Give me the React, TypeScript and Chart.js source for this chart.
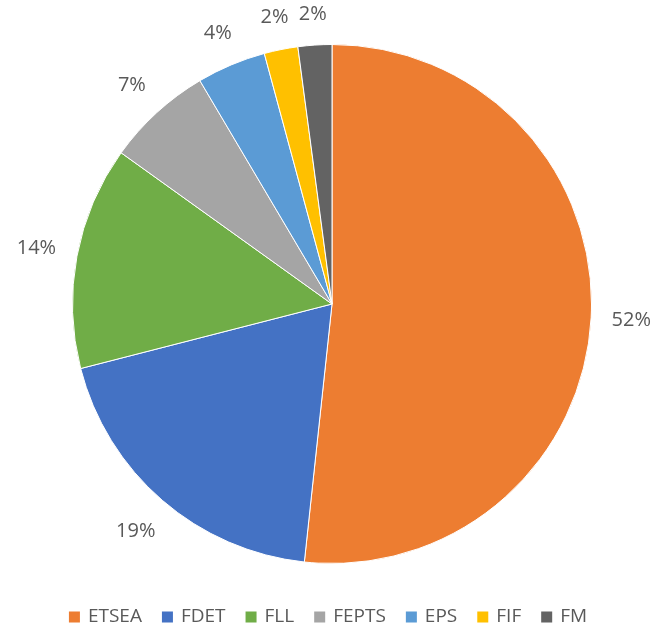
import React, { useEffect, useRef } from "react";
import { Chart, registerables } from "chart.js";

Chart.register(...registerables);

const categories = ["ETSEA", "FDET", "FLL", "FEPTS", "EPS", "FIF", "FM"];
const values = [51.7, 19.3, 13.9, 6.6, 4.3, 2.1, 2.1];
const colors = ["#ED7D31", "#4472C4", "#70AD47", "#A5A5A5", "#5B9BD5", "#FFC000", "#636363"];

const TEXT_COLOR = "#595959";
const FONT = '"Open Sans", "Noto Sans", sans-serif';

const labelPlugin = {
  id: "outsideLabels",
  afterDatasetsDraw(chart: any) {
    const ctx = chart.ctx;
    const meta = chart.getDatasetMeta(0);
    const data = chart.data.datasets[0].data as number[];
    const total = data.reduce((a, b) => a + b, 0);
    ctx.save();
    ctx.font = `20px ${FONT}`;
    ctx.fillStyle = TEXT_COLOR;
    ctx.textAlign = "center";
    ctx.textBaseline = "middle";
    meta.data.forEach((arc: any, i: number) => {
      const { x, y, startAngle, endAngle, outerRadius } = arc.getProps(
        ["x", "y", "startAngle", "endAngle", "outerRadius"],
        true
      );
      const text = Math.round((data[i] / total) * 100) + "%";
      const w = ctx.measureText(text).width;
      const h = 20;
      const mid = (startAngle + endAngle) / 2;
      const c = Math.cos(mid);
      const s = Math.sin(mid);
      const r = outerRadius + 20 + Math.abs(c) * (w / 2) + Math.abs(s) * (h / 2);
      ctx.fillText(text, x + c * r, y + s * r);
    });
    ctx.restore();
  },
};

const legendPlugin = {
  id: "customLegend",
  afterDraw(chart: any) {
    const ctx = chart.ctx;
    const labels = chart.data.labels as string[];
    const cols = chart.data.datasets[0].backgroundColor as string[];
    const box = 11;
    const gap = 8;
    const itemGap = 20;
    ctx.save();
    ctx.font = `19px ${FONT}`;
    const widths = labels.map((l) => ctx.measureText(l).width);
    const total =
      widths.reduce((a, w) => a + box + gap + w, 0) + itemGap * (labels.length - 1);
    let xPos = chart.width / 2 - total / 2;
    const cy = 616.5;
    ctx.textBaseline = "middle";
    ctx.textAlign = "left";
    labels.forEach((l, i) => {
      ctx.fillStyle = cols[i];
      ctx.fillRect(xPos, cy - box / 2 + 0.5, box, box);
      xPos += box + gap;
      ctx.fillStyle = TEXT_COLOR;
      ctx.fillText(l, xPos, cy);
      xPos += widths[i] + itemGap;
    });
    ctx.restore();
  },
};

export default function App() {
  const ref = useRef<HTMLCanvasElement>(null);
  useEffect(() => {
    if (!ref.current) return;
    const chart = new Chart(ref.current, {
      type: "pie",
      data: {
        labels: categories,
        datasets: [
          {
            data: values,
            backgroundColor: colors,
            borderColor: "#ffffff",
            borderWidth: 1,
          },
        ],
      },
      options: {
        responsive: false,
        animation: false,
        layout: { padding: { top: 44, bottom: 63, left: 72, right: 64 } },
        plugins: {
          legend: { display: false },
          tooltip: { enabled: false },
        },
      },
      plugins: [labelPlugin, legendPlugin],
    });
    return () => chart.destroy();
  }, []);
  return (
    <div style={{ position: "fixed", left: 0, top: 0, width: 656, height: 627, background: "#fff" }}>
      <canvas ref={ref} width={656} height={627} />
    </div>
  );
}
